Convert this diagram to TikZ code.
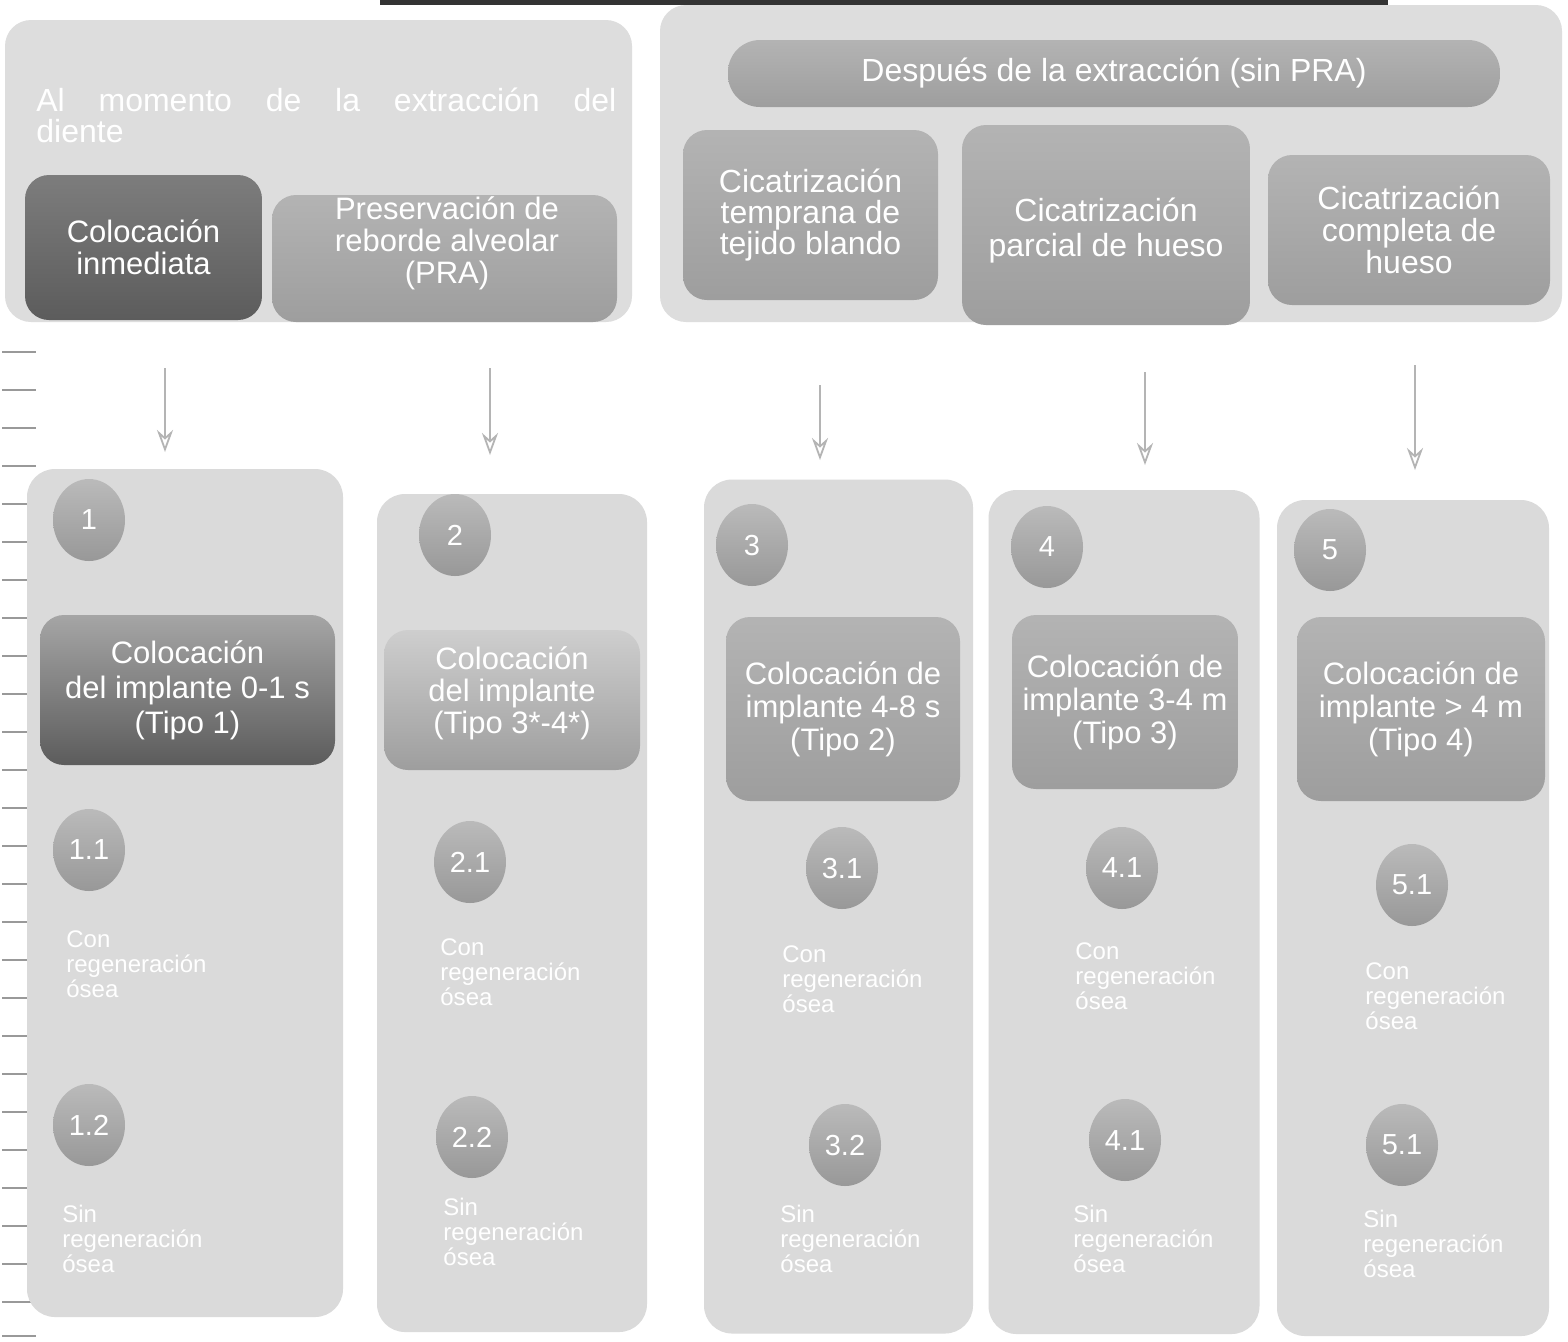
\documentclass[tikz,border=0pt]{standalone}
\usepackage{fontspec}
\setmainfont{Liberation Sans}
\usetikzlibrary{arrows.meta,shapes.geometric}
\definecolor{bgl}{HTML}{DDDDDD}
\definecolor{colbg}{HTML}{DADADA}
\definecolor{midg}{HTML}{A6A6A6}
\definecolor{darkg}{HTML}{5C5C5C}
\definecolor{circg}{HTML}{A9A9A9}
\definecolor{arrg}{HTML}{B4B4B4}
\tikzset{
  grp/.style={fill=bgl, rounded corners=13pt, inner sep=0pt},
  colbox/.style={fill=colbg, rounded corners=14pt, inner sep=0pt},
  bigtxt/.style={text=white, align=center, inner sep=0pt, font=\fontsize{15.5}{16}\selectfont},
  midbox/.style={top color=midg!85!white, bottom color=midg!95!black, rounded corners=12pt, text=white, align=center, inner sep=2pt, font=\fontsize{15.5}{16}\selectfont},
  darkbox/.style={top color=darkg!80!white, bottom color=darkg, rounded corners=12pt, text=white, align=center, inner sep=2pt, font=\fontsize{15.5}{16}\selectfont},
  numc/.style={ellipse, top color=circg!80!white, bottom color=circg!90!black, minimum width=36pt, minimum height=41pt, inner sep=0pt, text=white, font=\fontsize{14.5}{15}\selectfont},
  faint/.style={text=white, font=\fontsize{12}{12.5}\selectfont, align=left, anchor=north west, inner sep=0pt},
  arr/.style={draw=arrg, line width=0.9pt, -{Stealth[open, length=11pt, width=8pt]}},
  binder/.style={draw=gray!70, fill=white, line width=0.5pt}
}
\begin{document}
\begin{tikzpicture}[x=0.5pt,y=-0.5pt]
\useasboundingbox[fill=white] (0,0) rectangle (1568,1341);

% scan decorations
\draw[line width=2.5pt, black!80] (380,2) -- (1387,2);
\draw[line width=1pt, black!80] (1387,0) -- (1387,18);
\foreach \yy in {30,125,185,230,292} \draw[binder] (20,\yy) rectangle (42,\yy+20);
\foreach \yy in {352,390,428,466,504,542,580,618,656,694,732,770,808,846,884,922,960,998,1036,1074,1112,1150,1188,1226,1264,1302,1336}
  \draw[gray!80, line width=0.6pt] (2,\yy) -- (36,\yy);

% top groups
\node[grp, minimum width=313.5pt, minimum height=151pt] (gL) at (318.5,171) {};
\node[grp, minimum width=451pt, minimum height=158.5pt] (gR) at (1111,163.5) {};
\node[text=white, anchor=north west, inner sep=0pt, text width=290pt, align=justify, font=\fontsize{16}{15.5}\selectfont] (tL) at (36,88) {Al momento de la extracción del\linebreak diente};

\node[darkbox, minimum width=118.5pt, minimum height=72.5pt] (inm) at (143.5,247.5) {Colocación\\inmediata};
\node[midbox, minimum width=172.5pt, minimum height=63.5pt] (pra) at (444.5,258.5) {};
\node[bigtxt] (praT) at (447,243) {Preservación de\\reborde alveolar\\(PRA)};

\node[midbox, minimum width=386pt, minimum height=33.5pt, rounded corners=16pt, font=\fontsize{16}{16}\selectfont] (des) at (1114,73.5) {Después de la extracción (sin PRA)};
\node[midbox, minimum width=127.5pt, minimum height=85pt, font=\fontsize{16}{15.5}\selectfont] (ctb) at (810.5,215) {Cicatrización\\temprana de\\tejido blando};
\node[midbox, minimum width=144pt, minimum height=100pt] (cph) at (1106,225) {};
\node[bigtxt, font=\fontsize{16}{17.5}\selectfont] (cphT) at (1106,231) {Cicatrización\\parcial de hueso};
\node[midbox, minimum width=141pt, minimum height=75pt, font=\fontsize{16}{16}\selectfont] (cch) at (1409,230) {Cicatrización\\completa de\\hueso};

% arrows
\coordinate (a1s) at (165,368); \coordinate (a1e) at (165,452);
\coordinate (a2s) at (490,368); \coordinate (a2e) at (490,455);
\coordinate (a3s) at (820,385); \coordinate (a3e) at (820,460);
\coordinate (a4s) at (1145,372); \coordinate (a4e) at (1145,465);
\coordinate (a5s) at (1415,365); \coordinate (a5e) at (1415,470);
\draw[arr] (a1s) -- (a1e);
\draw[arr] (a2s) -- (a2e);
\draw[arr] (a3s) -- (a3e);
\draw[arr] (a4s) -- (a4e);
\draw[arr] (a5s) -- (a5e);

% columns
\node[colbox, minimum width=158pt, minimum height=424pt] (c1) at (185,893) {};
\node[colbox, minimum width=135pt, minimum height=419pt] (c2) at (512,913) {};
\node[colbox, minimum width=134.5pt, minimum height=427pt] (c3) at (838.5,906.5) {};
\node[colbox, minimum width=135.5pt, minimum height=422pt] (c4) at (1124,912) {};
\node[colbox, minimum width=136pt, minimum height=418pt] (c5) at (1413,918) {};

% circles
\node[numc] (n1) at (89,520) {1};
\node[numc] (n2) at (455,535) {2};
\node[numc] (n3) at (752,545) {3};
\node[numc] (n4) at (1047,547) {4};
\node[numc] (n5) at (1330,550) {5};
\node[numc] (n11) at (89,850) {1.1};
\node[numc] (n21) at (470,862) {2.1};
\node[numc] (n31) at (842,868) {3.1};
\node[numc] (n41) at (1122,868) {4.1};
\node[numc] (n51) at (1412,885) {5.1};
\node[numc] (n12) at (89,1125) {1.2};
\node[numc] (n22) at (472,1137) {2.2};
\node[numc] (n32) at (845,1145) {3.2};
\node[numc] (n42) at (1125,1140) {4.1};
\node[numc] (n52) at (1402,1145) {5.1};

% placement boxes
\node[darkbox, minimum width=147.5pt, minimum height=75pt, top color=darkg!55!white, bottom color=darkg, font=\fontsize{15.5}{17.5}\selectfont] (t1) at (187.5,690) {Colocación\\del implante 0-1 s\\(Tipo 1)};
\node[midbox, minimum width=128pt, minimum height=70pt, top color=midg!55!white, bottom color=midg!95!black] (t34) at (512,700) {};
\node[bigtxt] (t34T) at (512,693) {Colocación\\del implante\\(Tipo 3*-4*)};
\node[midbox, minimum width=117pt, minimum height=92pt, font=\fontsize{15.5}{16.5}\selectfont] (t2) at (843,709) {Colocación de\\implante 4-8 s\\(Tipo 2)};
\node[midbox, minimum width=113pt, minimum height=87pt, font=\fontsize{15.5}{16.5}\selectfont] (t3) at (1125,702) {Colocación de\\implante 3-4 m\\(Tipo 3)};
\node[midbox, minimum width=124pt, minimum height=92pt, font=\fontsize{15.5}{16.5}\selectfont] (t4) at (1421,709) {Colocación de\\implante > 4 m\\(Tipo 4)};

% faint texts
\node[faint] (x11) at (66,930) {Con\\regeneración\\ósea};
\node[faint] (x21) at (440,938) {Con\\regeneración\\ósea};
\node[faint] (x31) at (782,945) {Con\\regeneración\\ósea};
\node[faint] (x41) at (1075,942) {Con\\regeneración\\ósea};
\node[faint] (x51) at (1365,962) {Con\\regeneración\\ósea};
\node[faint] (x12) at (62,1205) {Sin\\regeneración\\ósea};
\node[faint] (x22) at (443,1198) {Sin\\regeneración\\ósea};
\node[faint] (x32) at (780,1205) {Sin\\regeneración\\ósea};
\node[faint] (x42) at (1073,1205) {Sin\\regeneración\\ósea};
\node[faint] (x52) at (1363,1210) {Sin\\regeneración\\ósea};
\end{tikzpicture}
\end{document}
